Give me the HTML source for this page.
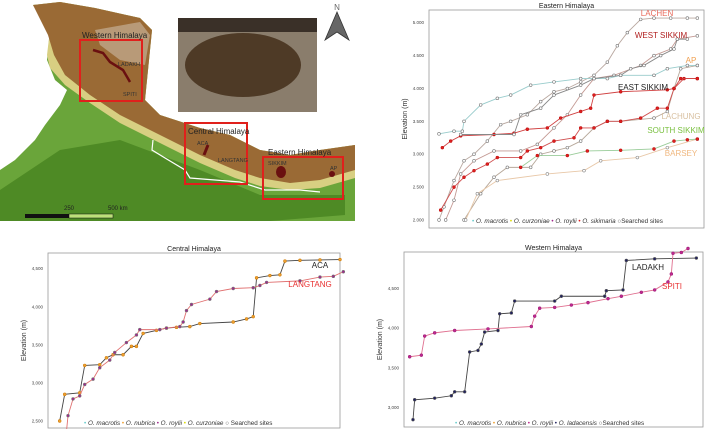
<!DOCTYPE html>
<html><head><meta charset="utf-8"><style>
body{margin:0;background:#fff;width:709px;height:429px;overflow:hidden;font-family:"Liberation Sans",sans-serif}
svg{display:block}
</style></head><body>
<svg id="fig" width="709" height="429" viewBox="0 0 709 429">
<g id="map">
  <polygon fill="#6aa53a" points="33,5 60,2 95,8 140,18 152,30 148,70 145,100 160,115 200,128 230,135 260,150 290,155 320,150 355,145 355,221 0,221 0,170 15,160 35,140 45,125 60,105 67,90 55,80 47,60 50,30"/>
  <polygon fill="#4e8a25" points="60,150 120,140 200,170 260,195 345,195 345,215 270,221 0,221 0,190 30,170"/>
  <polygon fill="#d8cf82" points="33,5 60,2 95,8 140,18 152,30 148,70 145,100 160,115 200,128 230,135 260,150 290,155 320,150 355,145 355,178 320,188 290,190 260,186 235,178 200,163 160,143 120,123 90,103 65,85 50,68 47,55 50,30"/>
  <polygon fill="#9a6a35" points="33,5 60,2 95,8 140,18 152,30 148,70 145,100 160,115 200,128 230,135 260,150 290,155 320,150 355,145 355,170 320,180 290,183 260,178 235,170 200,155 160,135 120,115 90,95 65,75 54,55 48,35"/>
  <polygon fill="#b89a78" points="95,30 140,22 150,35 145,65 120,60 100,45"/>
  <polyline fill="none" stroke="#fff" stroke-width="1.2" points="153,140 152,150 165,158 185,170 190,178 215,180 240,182 265,190 300,190 320,192"/>
  <rect x="178" y="18" width="139" height="94" fill="#8a7d6c"/>
  <rect x="178" y="18" width="139" height="14" fill="#3a3028"/>
  <ellipse cx="243" cy="65" rx="58" ry="32" fill="#4e3a26"/>
  <polygon points="337,12 325,40 337,32 349,40" fill="#666" stroke="#333" stroke-width="0.8"/>
  <text x="337" y="10" font-size="8" text-anchor="middle" fill="#666">N</text>
  <rect x="80" y="40" width="62" height="61" fill="none" stroke="#e0201c" stroke-width="2"/>
  <rect x="185" y="123" width="62" height="61" fill="none" stroke="#e0201c" stroke-width="2"/>
  <rect x="263" y="157" width="80" height="42" fill="none" stroke="#e0201c" stroke-width="2"/>
  <text x="82" y="38" font-size="8" fill="#222">Western Himalaya</text>
  <text x="188" y="134" font-size="8" fill="#222">Central Himalaya</text>
  <text x="268" y="155" font-size="8" fill="#222">Eastern Himalaya</text>
  <text x="118" y="66" font-size="5.5" fill="#333">LADAKH</text>
  <text x="123" y="96" font-size="5.5" fill="#333">SPITI</text>
  <text x="197" y="145" font-size="5.5" fill="#333">ACA</text>
  <text x="218" y="162" font-size="5.5" fill="#333">LANGTANG</text>
  <text x="268" y="165" font-size="5.5" fill="#333">SIKKIM</text>
  <text x="330" y="170" font-size="5.5" fill="#333">AP</text>
  <polyline points="93,50 103,53 110,62 123,70 130,82" fill="none" stroke="#6a1010" stroke-width="2.5"/>
  <polyline points="208,145 204,155" fill="none" stroke="#6a1010" stroke-width="3"/>
  <ellipse cx="281" cy="172" rx="5" ry="6" fill="#6a1010"/>
  <ellipse cx="332" cy="174" rx="3" ry="3" fill="#6a1010"/>
  <rect x="25" y="214" width="44" height="4" fill="#111"/>
  <rect x="69" y="214" width="44" height="4" fill="#bde07a" stroke="#111" stroke-width="0.5"/>
  <text x="64" y="210" font-size="6" fill="#222">250</text>
  <text x="108" y="210" font-size="6" fill="#222">500 km</text>
</g>
<g id="charts"></g>
</svg>
<script>
// ---- Eastern Himalaya data (x = cumulative site rank, y = elevation m)
const eLachenX=[255,270,300,330,360,400,440,470,520,560,600,640,680,720,760,790,820,860,900,950,1000,1030];
const eLachenY=[2000,2200,2600,2900,3000,3200,3450,3500,3600,3800,3950,4000,4100,4200,4400,4650,4850,5050,5070,5070,5070,5070];
const eWestX=[275,300,320,360,420,500,550,600,640,680,720,780,860,900,950,970,1030];
const eWestY=[2000,2300,2700,2900,3050,3050,3150,3400,3600,3900,4150,4200,4350,4500,4600,4750,4800];
const eLachungX=[330,380,420,460,530,560,600,640,680,720,760,800,900,940,960,980,1030];
const eLachungY=[2000,2400,2650,2800,2800,3000,3050,3100,3200,3400,3500,3500,3550,3650,4000,4300,4350];
const eEastX=[260,300,330,360,400,430,500,520,560,600,660,680,720,760,800,860,910,940,960,990,1030];
const eEastY=[2150,2500,2650,2750,2850,2950,2950,3050,3100,3200,3250,3400,3400,3500,3500,3550,3700,3700,4000,4150,4150];
const eTopX=[255,300,325,330,380,430,470,530,600,680,760,800,900,940,1000,1030];
const eTopY=[3310,3350,3350,3500,3750,3850,3900,4050,4100,4150,4150,4200,4200,4300,4350,4350];
const eRedX=[265,290,320,420,480,520,580,620,680,710,720,800,940,960,980,1030];
const eRedY=[3100,3200,3280,3300,3320,3380,3400,3550,3650,3700,3900,3950,3980,4000,4150,4150];
const eMidX=[320,480,500,560,600,680,720,800,830,870,920,960,970,1000];
const eMidY=[3300,3300,3600,3700,3900,4050,4150,4200,4300,4350,4500,4600,4750,4750];
const eBarseyX=[335,370,430,580,690,740,850,940,1030];
const eBarseyY=[2000,2400,2600,2700,2750,2900,2950,3100,3230];
const eSouthX=[500,550,640,700,800,900,960,1000,1030];
const eSouthY=[2800,2980,2980,3050,3060,3080,3200,3220,3230];
const eTicks=[2000,2500,3000,3500,4000,4500,5000];
const eTickLabels=["2.000","2.500","3.000","3.500","4.000","4.500","5.000"];
// ---- Central Himalaya
const cAcaX=[180,195,240,255,300,320,340,370,395,410,430,470,500,530,570,600,700,740,760,770,810,840,855,900,960,1020];
const cAcaY=[2500,2850,2870,3230,3240,3330,3370,3370,3480,3480,3650,3690,3720,3730,3740,3780,3800,3840,3870,4380,4410,4420,4600,4610,4615,4620];
const cLangX=[200,205,220,240,255,280,300,330,345,380,410,420,480,500,540,550,560,575,630,650,700,760,780,800,900,960,1000,1030];
const cLangY=[2350,2570,2790,2830,2980,3050,3200,3300,3400,3530,3630,3700,3700,3720,3740,3800,3950,4030,4100,4200,4240,4250,4280,4320,4340,4390,4400,4460];
const cTicks=[2500,3000,3500,4000,4500];
const cTickLabels=["2,500","3,000","3,500","4,000","4,500"];
// ---- Western Himalaya
const wLadX=[175,180,240,290,300,330,345,370,380,390,430,435,470,480,600,620,750,755,805,815,900,1025];
const wLadY=[2850,3100,3120,3150,3200,3200,3700,3720,3800,3950,3970,4180,4190,4340,4340,4400,4400,4470,4480,4850,4870,4880];
const wSpitiX=[165,200,210,240,300,400,530,540,555,600,650,700,760,800,860,900,940,950,955,980,1000];
const wSpitiY=[3640,3660,3900,3940,3970,3990,4020,4150,4250,4260,4290,4320,4370,4400,4450,4480,4580,4680,4940,4950,5000];
const wTicks=[3000,3500,4000,4500];
const wTickLabels=["3,000","3,500","4,000","4,500"];

const NS="http://www.w3.org/2000/svg";
const root=document.getElementById('charts');
function mk(tag,attrs,parent){const e=document.createElementNS(NS,tag);for(const k in attrs)e.setAttribute(k,attrs[k]);(parent||root).appendChild(e);return e;}

function chart(cfg){
  const g=mk('g',{});
  
  
  const sx=v=>cfg.x0+(v-cfg.dx0)/(cfg.dx1-cfg.dx0)*(cfg.x1-cfg.x0);
  const sy=v=>cfg.ya+(v-cfg.va)/(cfg.vb-cfg.va)*(cfg.yb-cfg.ya);
  const frame=mk('rect',{x:cfg.x0,y:cfg.top,width:cfg.x1-cfg.x0,height:cfg.bot-cfg.top,fill:'none',stroke:'#999','stroke-width':0.8},g);
  
  
  const t=mk('text',{x:(cfg.x0+cfg.x1)/2,y:cfg.top-2,'font-size':7,'text-anchor':'middle',fill:'#222'},g);
  t.textContent=cfg.title;
  
  
  const yl=mk('text',{x:0,y:0,'font-size':7,'text-anchor':'middle',fill:'#333',transform:`translate(${cfg.x0-22},${(cfg.top+cfg.bot)/2}) rotate(-90)`},g);
  yl.textContent='Elevation (m)';
  
  
  cfg.ticks.forEach((v,i)=>{
    const tl=mk('text',{x:cfg.x0-5,y:sy(v)+1.5,'font-size':4.5,'text-anchor':'end',fill:'#444'},g);
    tl.textContent=cfg.tickLabels[i];
    
    
  });
  cfg.series.forEach(s=>{
    const pts=s.x.map((xv,i)=>sx(xv)+','+sy(s.y[i])).join(' ');
    const pl=mk('polyline',{points:pts,fill:'none',stroke:s.line,'stroke-width':0.9},g);
    
    
    s.x.forEach((xv,i)=>{
      const c=mk('circle',{cx:sx(xv),cy:sy(s.y[i]),r:1.4,fill:s.fill,stroke:s.stroke,'stroke-width':0.6},g);
      
      
    });
  });
  cfg.labels.forEach(l=>{
    const lt=mk('text',{x:l.x,y:l.y,'font-size':l.fs||8,'text-anchor':'middle',fill:l.c},g);
    lt.textContent=l.t;
    
    
  });
  const lg=mk('text',{x:cfg.legX,y:cfg.legY,'font-size':6.3,fill:'#333'},g);
  
  
  cfg.legend.forEach(e=>{
    const d=mk('tspan',{fill:e.c},lg);d.textContent=e.sym;
    const tx=mk('tspan',{fill:'#333','font-style':e.it?'italic':'normal'},lg);tx.textContent=e.t+'  ';
  });
}

chart({name:'eastern-himalaya-chart',title:'Eastern Himalaya',x0:429,x1:704,top:10,bot:228,dx0:225,dx1:1050,va:2000,ya:220,vb:5000,yb:22.7,
  ticks:eTicks,tickLabels:eTickLabels,
  series:[
    {name:'lachen',x:eLachenX,y:eLachenY,line:'#b9a8a0',fill:'#fff',stroke:'#777'},
    {name:'west-sikkim',x:eWestX,y:eWestY,line:'#c49a94',fill:'#fff',stroke:'#777'},
    {name:'lachung',x:eLachungX,y:eLachungY,line:'#b7a89a',fill:'#fff',stroke:'#777'},
    {name:'east-sikkim',x:eEastX,y:eEastY,line:'#d05050',fill:'#e02020',stroke:'#c01010'},
    {name:'top-cyan',x:eTopX,y:eTopY,line:'#9cc',fill:'#fff',stroke:'#777'},
    {name:'red-sikimaria',x:eRedX,y:eRedY,line:'#d04040',fill:'#e02020',stroke:'#c01010'},
    {name:'mid-grey',x:eMidX,y:eMidY,line:'#888',fill:'#fff',stroke:'#777'},
    {name:'barsey',x:eBarseyX,y:eBarseyY,line:'#e8c8a8',fill:'#fff',stroke:'#888'},
    {name:'south-sikkim',x:eSouthX,y:eSouthY,line:'#9c9',fill:'#e02020',stroke:'#c01010'}
  ],
  labels:[{t:'LACHEN',x:657,y:16,c:'#e86a5a',n:'lachen-label'},{t:'WEST SIKKIM',x:661,y:38,c:'#b01e1e',n:'west-sikkim-label'},
    {t:'AP',x:691,y:63,c:'#f0a050',n:'ap-label'},{t:'EAST SIKKIM',x:643,y:90,c:'#222',n:'east-sikkim-label'},
    {t:'LACHUNG',x:681,y:119,c:'#d8c0a0',n:'lachung-label'},{t:'SOUTH SIKKIM',x:676,y:133,c:'#7ac040',n:'south-sikkim-label'},
    {t:'BARSEY',x:681,y:156,c:'#f0b880',n:'barsey-label'}],
  legX:472,legY:223,
  legend:[{sym:'• ',c:'#6cc',t:'O. macrotis',it:1},{sym:'• ',c:'#dd0',t:'O. curzoniae',it:1},{sym:'• ',c:'#a0288c',t:'O. roylii',it:1},{sym:'• ',c:'#e02020',t:'O. sikimaria',it:1},{sym:'○',c:'#555',t:'Searched sites'}]
});
chart({name:'central-himalaya-chart',title:'Central Himalaya',x0:48,x1:340,top:253,bot:428,dx0:145,dx1:1020,va:2500,ya:421,vb:4500,yb:268.7,
  ticks:cTicks,tickLabels:cTickLabels,
  series:[
    {name:'aca',x:cAcaX,y:cAcaY,line:'#444',fill:'#f0a030',stroke:'#d08010'},
    {name:'langtang',x:cLangX,y:cLangY,line:'#e07070',fill:'#a0288c',stroke:'#777'}
  ],
  labels:[{t:'ACA',x:320,y:268,c:'#222',n:'aca-label'},{t:'LANGTANG',x:310,y:287,c:'#e83030',n:'langtang-label'}],
  legX:84,legY:425,
  legend:[{sym:'• ',c:'#6cc',t:'O. macrotis',it:1},{sym:'• ',c:'#f0a030',t:'O. nubrica',it:1},{sym:'• ',c:'#a0288c',t:'O. roylii',it:1},{sym:'• ',c:'#dd0',t:'O. curzoniae',it:1},{sym:'○ ',c:'#555',t:'Searched sites'}]
});
chart({name:'western-himalaya-chart',title:'Western Himalaya',x0:404,x1:703,top:252,bot:427,dx0:148,dx1:1045,va:3000,ya:407.7,vb:4500,yb:288.3,
  ticks:wTicks,tickLabels:wTickLabels,
  series:[
    {name:'ladakh',x:wLadX,y:wLadY,line:'#444',fill:'#202060',stroke:'#555'},
    {name:'spiti',x:wSpitiX,y:wSpitiY,line:'#e07090',fill:'#c02890',stroke:'#a0207a'}
  ],
  labels:[{t:'LADAKH',x:648,y:270,c:'#222',n:'ladakh-label'},{t:'SPITI',x:672,y:289,c:'#e83030',n:'spiti-label'}],
  legX:455,legY:425,
  legend:[{sym:'• ',c:'#6cc',t:'O. macrotis',it:1},{sym:'• ',c:'#f0a030',t:'O. nubrica',it:1},{sym:'• ',c:'#c02890',t:'O. roylii',it:1},{sym:'• ',c:'#202060',t:'O. ladacensis',it:1},{sym:'○',c:'#555',t:'Searched sites'}]
});
</script>
</body></html>
